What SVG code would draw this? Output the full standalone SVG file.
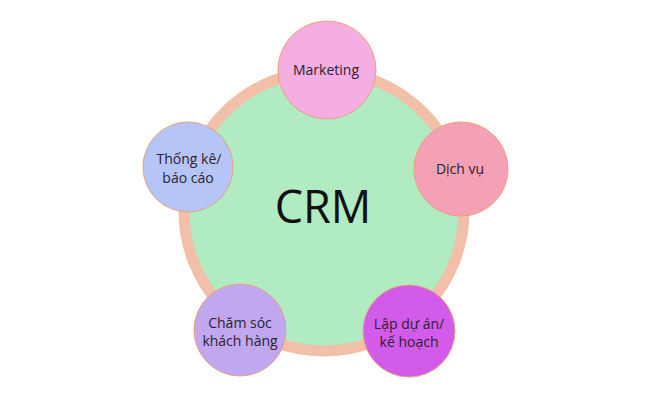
<svg xmlns="http://www.w3.org/2000/svg" width="650" height="400" viewBox="0 0 650 400">
<style>
.node{stroke:#e9a27a;stroke-width:1}
.lbl{font-family:"Open Sans","Noto Sans",sans-serif;font-size:14px;fill:#2b2231;text-anchor:middle}
</style>
<rect width="650" height="400" fill="#ffffff"/>
<g id="hub">
<circle cx="324" cy="211" r="140" fill="#b0ebc2" stroke="#f2bfa9" stroke-width="11"/>
<text x="323" y="223" font-family="Open Sans,Noto Sans,sans-serif" font-size="45" fill="#111111" text-anchor="middle" style="font-family:'Open Sans','Noto Sans',sans-serif">CRM</text>
</g>
<g id="connectors"></g>
<g id="marketing">
<circle class="node" cx="327" cy="70" r="49" fill="#f5aee2"/>
<text class="lbl" x="326" y="75">Marketing</text>
</g>
<g id="dichvu">
<circle class="node" cx="461" cy="169" r="47" fill="#f5a1b5"/>
<text class="lbl" x="460" y="174">Dịch vụ</text>
</g>
<g id="thongke">
<circle class="node" cx="188" cy="167" r="45" fill="#b6c5f8"/>
<text class="lbl" x="189" y="164">Thống kê/</text>
<text class="lbl" x="188" y="183">báo cáo</text>
</g>
<g id="chamsoc">
<circle class="node" cx="240" cy="330" r="46" fill="#c1a7ef"/>
<text class="lbl" x="240" y="328">Chăm sóc</text>
<text class="lbl" x="240" y="346">khách hàng</text>
</g>
<g id="lapduan">
<circle class="node" cx="409" cy="331" r="46" fill="#d35be9"/>
<text class="lbl" x="409" y="329">Lập dự án/</text>
<text class="lbl" x="409" y="347">kế hoạch</text>
</g>
</svg>
